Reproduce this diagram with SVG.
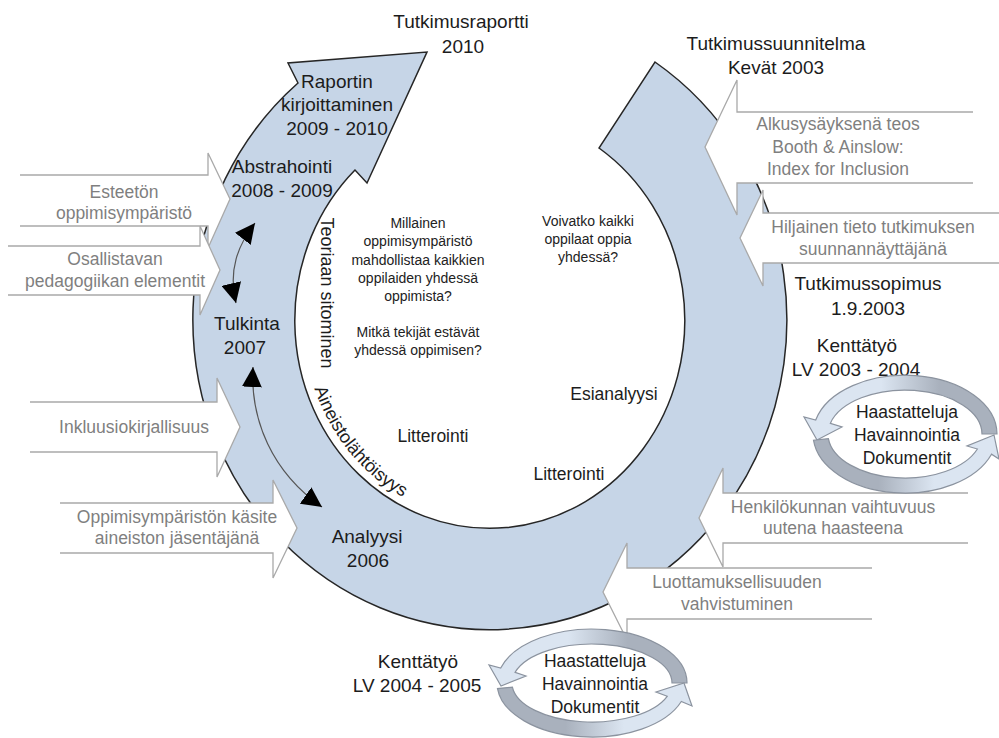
<svg xmlns="http://www.w3.org/2000/svg" width="999" height="738" viewBox="0 0 999 738">
  <style>
    text { font-family: "Liberation Sans", Arial, sans-serif; }
    .lbl { font-size: 19px; fill: #1c1c1c; text-anchor: middle; }
    .co { font-size: 17.5px; fill: #7f7f7f; text-anchor: middle; }
    .q { font-size: 14px; fill: #222; text-anchor: middle; }
    .mid { font-size: 17.5px; fill: #1c1c1c; text-anchor: middle; }
    .side { font-size: 18px; fill: #1c1c1c; }
    .cyc { font-size: 17.5px; fill: #1c1c1c; text-anchor: middle; }
    .callout { fill: #ffffff; stroke: #a9a9a9; stroke-width: 1.3; }
    .ring { fill: #c6d5e7; stroke: #262626; stroke-width: 1.5; stroke-linejoin: miter; }
    .link { fill: none; stroke: #555; stroke-width: 1.2; marker-start: url(#head); marker-end: url(#head); }
    .band { stroke: #8b939f; stroke-width: 1.2; }
  </style>
  <defs>
    <marker id="head" viewBox="0 0 20 20" refX="20" refY="10" markerWidth="20" markerHeight="20" markerUnits="userSpaceOnUse" orient="auto-start-reverse">
      <path d="M0,0 L20,10 L0,20 Z" fill="#000"/>
    </marker>
    <linearGradient id="gUp" x1="0" y1="0" x2="1" y2="0">
      <stop offset="0.4" stop-color="#dbe5f1"/>
      <stop offset="0.7" stop-color="#a9b1bd"/>
    </linearGradient>
    <linearGradient id="gDown" x1="0" y1="0" x2="1" y2="0">
      <stop offset="0.35" stop-color="#a9b1bd"/>
      <stop offset="0.65" stop-color="#dbe5f1"/>
    </linearGradient>
    <!-- baseline just inside the inner edge of the ring, lower-left quarter -->
    <path id="arcText" d="M 314.3,388.4 A 187 200 0 0 0 457.5,517"/>
  </defs>

  <!-- main circular process arrow -->
  <g id="process-ring">
    <path class="ring" d="M 655,62 A 297 310 0 1 1 298,83 L 288,63 L 427,52 L 367,183 L 355,170 A 195 208 0 1 0 599,148 Z"/>
  </g>

  <!-- input callouts, left side (pointing right) -->
  <g id="callout-esteeton">
    <path class="callout" d="M 20,175 L 208,175 L 208,153 L 230,199 L 208,248 L 208,226 L 20,226"/>
    <text class="co" x="124" y="198">Esteetön</text>
    <text class="co" x="124" y="219">oppimisympäristö</text>
  </g>
  <g id="callout-osallistavan">
    <path class="callout" d="M 8,246 L 200,246 L 200,226 L 220,270 L 200,315 L 200,295 L 8,295"/>
    <text class="co" x="115" y="265">Osallistavan</text>
    <text class="co" x="115" y="287">pedagogiikan elementit</text>
  </g>
  <g id="callout-inkluusio">
    <path class="callout" d="M 30,402 L 217,402 L 217,378 L 240,427 L 217,477 L 217,452 L 30,452"/>
    <text class="co" x="134" y="433">Inkluusiokirjallisuus</text>
  </g>
  <g id="callout-kasite">
    <path class="callout" d="M 60,503 L 273,503 L 273,480 L 297,528 L 273,578 L 273,553 L 60,553"/>
    <text class="co" x="177" y="523">Oppimisympäristön käsite</text>
    <text class="co" x="177" y="544">aineiston jäsentäjänä</text>
  </g>

  <!-- input callouts, right side (pointing left) -->
  <g id="callout-alkusysays">
    <path class="callout" d="M 973,112 L 737,112 L 737,80 L 705,147 L 737,215 L 737,183 L 973,183"/>
    <text class="co" x="838" y="130">Alkusysäyksenä teos</text>
    <text class="co" x="838" y="153">Booth &amp; Ainslow:</text>
    <text class="co" x="838" y="175">Index for Inclusion</text>
  </g>
  <g id="callout-hiljainen">
    <path class="callout" d="M 999,213 L 763,213 L 763,190 L 740,238 L 763,286 L 763,263 L 999,263"/>
    <text class="co" x="873" y="233">Hiljainen tieto tutkimuksen</text>
    <text class="co" x="873" y="255">suunnannäyttäjänä</text>
  </g>
  <g id="callout-henkilokunta">
    <path class="callout" d="M 968,493 L 723,493 L 723,468 L 699,518 L 723,567 L 723,543 L 968,543"/>
    <text class="co" x="833" y="513">Henkilökunnan vaihtuvuus</text>
    <text class="co" x="833" y="534">uutena haasteena</text>
  </g>
  <g id="callout-luottamus">
    <path class="callout" d="M 872,568 L 627,568 L 627,543 L 603,592 L 627,640 L 627,619 L 872,619"/>
    <text class="co" x="737" y="588">Luottamuksellisuuden</text>
    <text class="co" x="737" y="610">vahvistuminen</text>
  </g>

  <!-- phase labels -->
  <g id="phase-raportti">
    <text class="lbl" x="461" y="28">Tutkimusraportti</text>
    <text class="lbl" x="463" y="53">2010</text>
  </g>
  <g id="phase-kirjoittaminen">
    <text class="lbl" x="337" y="88">Raportin</text>
    <text class="lbl" x="337" y="111">kirjoittaminen</text>
    <text class="lbl" x="337" y="135">2009 - 2010</text>
  </g>
  <g id="phase-abstrahointi">
    <text class="lbl" x="282" y="173">Abstrahointi</text>
    <text class="lbl" x="282" y="197">2008 - 2009</text>
  </g>
  <g id="phase-tulkinta">
    <text class="lbl" x="247" y="330">Tulkinta</text>
    <text class="lbl" x="245" y="354">2007</text>
  </g>
  <g id="phase-analyysi">
    <text class="lbl" x="367" y="543">Analyysi</text>
    <text class="lbl" x="368" y="567">2006</text>
  </g>
  <g id="phase-suunnitelma">
    <text class="lbl" x="776" y="50">Tutkimussuunnitelma</text>
    <text class="lbl" x="776" y="74">Kevät 2003</text>
  </g>
  <g id="phase-sopimus">
    <text class="lbl" x="868" y="290">Tutkimussopimus</text>
    <text class="lbl" x="868" y="315">1.9.2003</text>
  </g>
  <g id="phase-kenttatyo-1">
    <text class="lbl" x="857" y="352">Kenttätyö</text>
    <text class="lbl" x="856" y="376">LV 2003 - 2004</text>
  </g>
  <g id="phase-kenttatyo-2">
    <text class="lbl" x="418" y="668">Kenttätyö</text>
    <text class="lbl" x="417" y="692">LV 2004 - 2005</text>
  </g>

  <!-- texts along the inner edge -->
  <g id="inner-teoriaan">
    <text class="side" text-anchor="middle" transform="translate(321,293) rotate(90)">Teoriaan sitominen</text>
  </g>
  <g id="inner-aineisto">
    <text class="side"><textPath href="#arcText">Aineistolähtöisyys</textPath></text>
  </g>

  <!-- research questions -->
  <g id="question-left">
    <text class="q" x="418" y="228">Millainen</text>
    <text class="q" x="418" y="246">oppimisympäristö</text>
    <text class="q" x="418" y="265">mahdollistaa kaikkien</text>
    <text class="q" x="418" y="283">oppilaiden yhdessä</text>
    <text class="q" x="418" y="301">oppimista?</text>
    <text class="q" x="418" y="337">Mitkä tekijät estävät</text>
    <text class="q" x="418" y="355">yhdessä oppimisen?</text>
  </g>
  <g id="question-right">
    <text class="q" x="588" y="226">Voivatko kaikki</text>
    <text class="q" x="588" y="244">oppilaat oppia</text>
    <text class="q" x="588" y="262">yhdessä?</text>
  </g>
  <g id="step-esianalyysi">
    <text class="mid" x="614" y="400">Esianalyysi</text>
  </g>
  <g id="step-litterointi-1">
    <text class="mid" x="433" y="442">Litterointi</text>
  </g>
  <g id="step-litterointi-2">
    <text class="mid" x="569" y="480">Litterointi</text>
  </g>

  <!-- connectors between phases -->
  <g id="connectors">
    <path class="link" d="M 255,223 C 238,245 228,270 236,303"/>
    <path class="link" d="M 253,367 C 250,420 272,472 322,507"/>
  </g>

  <!-- fieldwork cycles -->
  <g id="cycle-1">
    <path class="band" fill="url(#gUp)" d="M 997,434 A 92 59 0 0 0 815.7,420 L 804,417 L 817,440 L 842,427 L 830.3,423.4 A 77 44 0 0 1 982,434 Z"/>
    <path class="band" fill="url(#gDown)" d="M 813.5,440.2 A 92 59 0 0 0 991.5,454.2 L 999,459 L 994,435 L 967,446 L 977.4,449 A 77 44 0 0 1 828.4,438.6 Z"/>
    <text class="cyc" x="907" y="418">Haastatteluja</text>
    <text class="cyc" x="907" y="441">Havainnointia</text>
    <text class="cyc" x="907" y="464">Dokumentit</text>
  </g>
  <g id="cycle-2">
    <path class="band" fill="url(#gUp)" d="M 687,683 A 95 54 0 0 0 500.7,668.1 L 489,665 L 501,686 L 526,676 L 515.1,672.3 A 80 39 0 0 1 672,683 Z"/>
    <path class="band" fill="url(#gDown)" d="M 497.5,688.6 A 95 54 0 0 0 681.3,701.5 L 692,706 L 684,683 L 656,692 L 667.2,696.3 A 80 39 0 0 1 512.4,687.1 Z"/>
    <text class="cyc" x="595" y="667">Haastatteluja</text>
    <text class="cyc" x="595" y="690">Havainnointia</text>
    <text class="cyc" x="595" y="713">Dokumentit</text>
  </g>
</svg>
